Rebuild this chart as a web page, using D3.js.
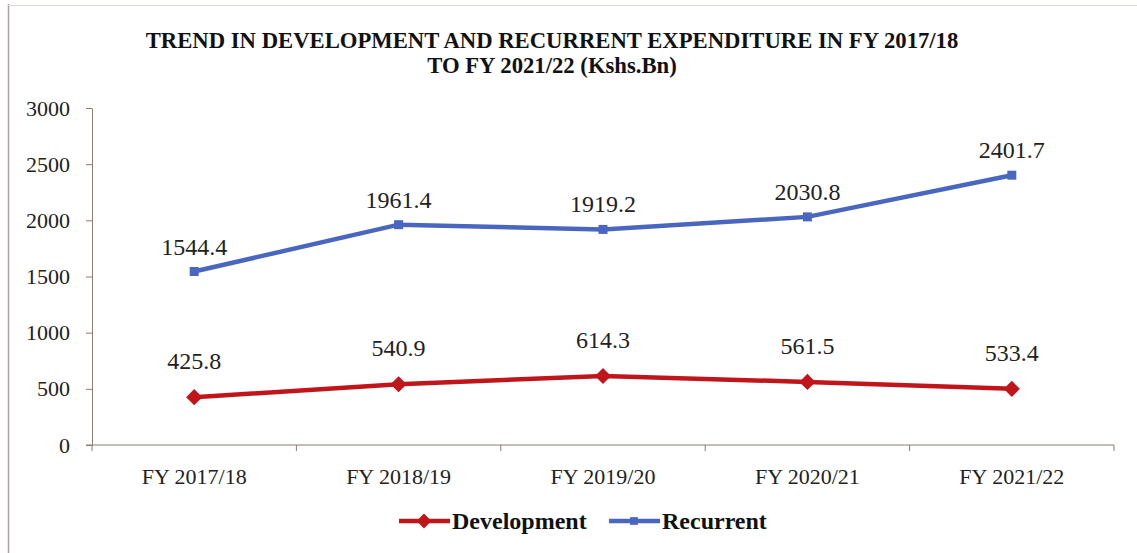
<!DOCTYPE html>
<html>
<head>
<meta charset="utf-8">
<script src="https://cdn.jsdelivr.net/npm/d3@7"></script>
<style>
	body { margin: 0; background: #fff; }
	svg { display: block; }
</style>
</head>
<body>
<svg width="1137" height="553"></svg>
<script>
const categories = ["FY 2017/18", "FY 2018/19", "FY 2019/20", "FY 2020/21", "FY 2021/22"];
// plotted positions (last development point sits at ~500)
const development = [425.8, 540.9, 614.3, 561.5, 500];
const developmentLabels = ["425.8", "540.9", "614.3", "561.5", "533.4"];
const recurrent = [1544.4, 1961.4, 1919.2, 2030.8, 2401.7];
const recurrentLabels = ["1544.4", "1961.4", "1919.2", "2030.8", "2401.7"];
const yTicks = [0, 500, 1000, 1500, 2000, 2500, 3000];
const titleLines = ["TREND IN DEVELOPMENT AND RECURRENT EXPENDITURE IN FY 2017/18", "TO FY 2021/22 (Kshs.Bn)"];

const serif = "Liberation Serif, DejaVu Serif, serif";
const devColour = "#c0161b";
const recColour = "#4a67c0";
const axisColour = "#8b7b70";

let svg = d3.select("svg").attr("font-family", serif);

// frame
svg.append("line").attr("x1", 8.5).attr("x2", 8.5).attr("y1", 4).attr("y2", 553)
	.attr("stroke", "#a8a0a0").attr("stroke-width", 1.5);
svg.append("line").attr("x1", 8).attr("x2", 1137).attr("y1", 5.5).attr("y2", 5.5)
	.attr("stroke", "#ddd8d0").attr("stroke-width", 1);

let x = d3.scaleBand().domain(categories).range([92, 1114]);
let y = d3.scaleLinear().domain([0, 3000]).range([445, 108]);

// title
svg.append("g").selectAll("text").data(titleLines).enter().append("text")
	.attr("x", 552)
	.attr("y", function(d, i) { return 48 + i * 25; })
	.attr("text-anchor", "middle")
	.attr("font-family", serif)
	.attr("font-size", "22.7px")
	.attr("font-weight", "bold")
	.attr("fill", "#111")
	.text(function(d) { return d; });

// y axis
let yAxis = svg.append("g").attr("transform", "translate(92,0)")
	.call(d3.axisLeft(y).tickValues(yTicks).tickFormat(d3.format("d"))
		.tickSize(6).tickPadding(16).tickSizeOuter(0));
yAxis.attr("font-family", serif);
yAxis.select(".domain").attr("stroke", axisColour);
yAxis.selectAll(".tick line").attr("stroke", axisColour);
yAxis.selectAll("text").attr("font-size", "22px").attr("fill", "#222");

// x axis, ticks on category boundaries
let xAxisG = svg.append("g").attr("transform", "translate(0,445)");
xAxisG.append("line").attr("x1", 86).attr("x2", 1114).attr("stroke", axisColour);
let bounds = categories.map(function(d) { return x(d); }).concat([x.range()[1]]);
xAxisG.selectAll("line.tk").data(bounds).enter().append("line").attr("class", "tk")
	.attr("x1", function(d) { return d; }).attr("x2", function(d) { return d; })
	.attr("y1", 0).attr("y2", 6).attr("stroke", axisColour);
xAxisG.selectAll("text").data(categories).enter().append("text")
	.attr("x", function(d) { return x(d) + x.bandwidth() / 2; })
	.attr("y", 39)
	.attr("text-anchor", "middle")
	.attr("font-size", "22px")
	.attr("fill", "#222")
	.text(function(d) { return d; });

let cx = function(d, i) { return x(categories[i]) + x.bandwidth() / 2; };
let line = d3.line().x(cx).y(function(d) { return y(d); });

// recurrent
svg.append("path").datum(recurrent).attr("d", line)
	.attr("fill", "none").attr("stroke", recColour).attr("stroke-width", 4.5);
svg.append("g").selectAll("rect").data(recurrent).enter().append("rect")
	.attr("x", function(d, i) { return cx(d, i) - 4.5; })
	.attr("y", function(d) { return y(d) - 4.5; })
	.attr("width", 9).attr("height", 9).attr("fill", recColour);
svg.append("g").selectAll("text").data(recurrent).enter().append("text")
	.attr("x", cx)
	.attr("y", function(d) { return y(d) - 17; })
	.attr("text-anchor", "middle")
	.attr("font-size", "24px")
	.attr("fill", "#222")
	.text(function(d, i) { return recurrentLabels[i]; });

// development
svg.append("path").datum(development).attr("d", line)
	.attr("fill", "none").attr("stroke", devColour).attr("stroke-width", 4.5);
svg.append("g").selectAll("path").data(development).enter().append("path")
	.attr("d", d3.symbol().type(d3.symbolSquare).size(130))
	.attr("transform", function(d, i) { return "translate(" + cx(d, i) + "," + y(d) + ") rotate(45)"; })
	.attr("fill", devColour);
svg.append("g").selectAll("text").data(development).enter().append("text")
	.attr("x", cx)
	.attr("y", function(d) { return y(d) - 28; })
	.attr("text-anchor", "middle")
	.attr("font-size", "24px")
	.attr("fill", "#222")
	.text(function(d, i) { return developmentLabels[i]; });

// legend
let legend = [
	{name: "Development", colour: devColour, x: 399, marker: "diamond"},
	{name: "Recurrent", colour: recColour, x: 609, marker: "square"},
];
let lg = svg.append("g").selectAll("g").data(legend).enter().append("g")
	.attr("transform", function(d) { return "translate(" + d.x + ",521)"; });
lg.append("line").attr("x1", 0).attr("x2", 51).attr("stroke", function(d) { return d.colour; })
	.attr("stroke-width", 4.5);
lg.append("path")
	.attr("d", function(d) {
		return d3.symbol().type(d3.symbolSquare).size(d.marker === "diamond" ? 110 : 60)();
	})
	.attr("transform", function(d) { return "translate(25,0)" + (d.marker === "diamond" ? " rotate(45)" : ""); })
	.attr("fill", function(d) { return d.colour; });
lg.append("text").attr("x", 53).attr("y", 8)
	.attr("font-size", "24px").attr("font-weight", "bold").attr("fill", "#111")
	.text(function(d) { return d.name; });
</script>
</body>
</html>
